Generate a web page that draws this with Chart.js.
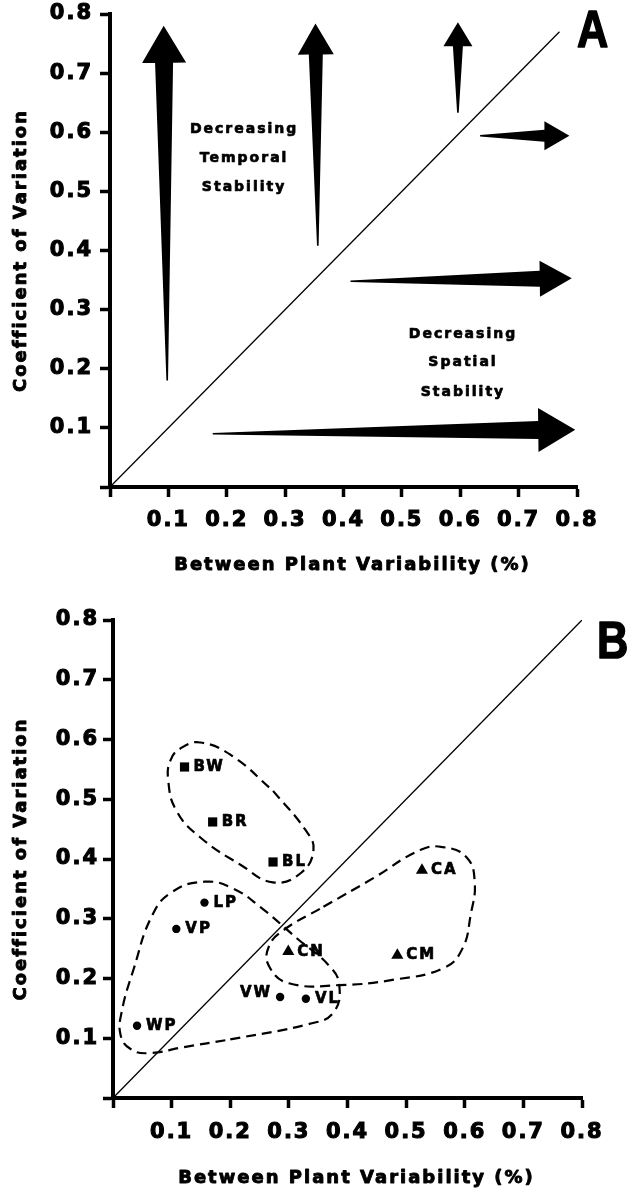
<!DOCTYPE html>
<html>
<head>
<meta charset="utf-8">
<script src="https://cdn.jsdelivr.net/npm/chart.js@4.4.1/dist/chart.umd.min.js"></script>
<style>
  html, body { margin: 0; padding: 0; background: #fff; }
  canvas { display: block; }
</style>
</head>
<body>
<canvas id="chartA" width="630" height="596"></canvas>
<canvas id="chartB" width="630" height="596"></canvas>
<script>
// ticks shared by both panels
const tickValues = [0, 0.1, 0.2, 0.3, 0.4, 0.5, 0.6, 0.7, 0.8]
const tickLabels = ['', '0.1', '0.2', '0.3', '0.4', '0.5', '0.6', '0.7', '0.8']
const xTitle = 'Between Plant Variability (%)'
const yTitle = 'Coefficient of Variation'

// panel A: 1:1 line, trend arrows and notes
const diagonalA = [[0, 0], [0.77, 0.77]]
const arrowTail = [[0.098, 0.18], [0.356, 0.408], [0.596, 0.633], [0.634, 0.594], [0.412, 0.348], [0.176, 0.09]]
const arrowTip = [[0.092, 0.78], [0.352, 0.784], [0.596, 0.786], [0.787, 0.594], [0.791, 0.353], [0.797, 0.097]]
const noteText = [['Decreasing', 'Temporal', 'Stability'], ['Decreasing', 'Spatial', 'Stability']]
const noteX = [0.228, 0.603]
const noteY = [[0.605, 0.555, 0.506], [0.259, 0.211, 0.16]]

// panel B: sites
const diagonalB = [[0, 0], [0.8, 0.8]]
const squareNames = ['BW', 'BR', 'BL']
const squareX = [0.122, 0.170, 0.273]
const squareY = [0.554, 0.462, 0.395]
const circleNames = ['LP', 'VP', 'WP', 'VW', 'VL']
const circleX = [0.156, 0.108, 0.041, 0.285, 0.329]
const circleY = [0.327, 0.283, 0.121, 0.169, 0.166]
const triangleNames = ['CN', 'CA', 'CM']
const triangleX = [0.299, 0.527, 0.485]
const triangleY = [0.245, 0.381, 0.239]

// dashed group outlines
const outlineB = [[0.273, 0.514], [0.328, 0.449], [0.342, 0.416], [0.321, 0.377], [0.273, 0.361], [0.218, 0.39],
  [0.149, 0.436], [0.108, 0.481], [0.094, 0.533], [0.098, 0.565], [0.115, 0.585], [0.149, 0.595], [0.204, 0.572], [0.273, 0.514]]
const outlineV = [[0.2, 0.098], [0.335, 0.124], [0.376, 0.143], [0.386, 0.189], [0.369, 0.221], [0.314, 0.267],
  [0.252, 0.319], [0.204, 0.351], [0.156, 0.362], [0.101, 0.345], [0.067, 0.306], [0.035, 0.215], [0.015, 0.145],
  [0.013, 0.105], [0.03, 0.082], [0.06, 0.075], [0.12, 0.085], [0.2, 0.098]]
const outlineC = [[0.359, 0.32], [0.444, 0.368], [0.524, 0.415], [0.562, 0.42], [0.603, 0.403], [0.617, 0.362],
  [0.61, 0.306], [0.596, 0.25], [0.565, 0.218], [0.479, 0.198], [0.387, 0.189], [0.3, 0.192], [0.266, 0.221],
  [0.266, 0.254], [0.291, 0.281], [0.359, 0.32]]

const toXY = pairs => pairs.map(p => ({x: p[0], y: p[1]}))
const zipXY = (xs, ys) => xs.map((x, i) => ({x: x, y: ys[i]}))

Chart.defaults.font.family = 'DejaVu Sans'
Chart.defaults.font.weight = 'bold'
Chart.defaults.font.size = 21
Chart.defaults.color = '#000'

// heavy text: fill plus a thin outline
function heavyText(ctx, s, x, y, stroke) {
    ctx.lineWidth = stroke
    ctx.strokeStyle = '#000'
    ctx.lineJoin = 'round'
    ctx.strokeText(s, x, y)
    ctx.fillText(s, x, y)
}

// wide lettering everywhere
const spacing = {
    id: 'spacing',
    beforeUpdate(chart) { chart.ctx.letterSpacing = '2px' },
    beforeDraw(chart) { chart.ctx.letterSpacing = '2px' }
}

// axis titles, drawn here so they can be outlined like the rest
const axisTitles = {
    id: 'axisTitles',
    afterDraw(chart, args, opts) {
        const ctx = chart.ctx
        const sx = chart.scales.x
        const sy = chart.scales.y
        ctx.save()
        ctx.fillStyle = '#000'
        ctx.font = 'bold 18px "DejaVu Sans"'
        ctx.textAlign = 'center'
        ctx.textBaseline = 'middle'
        heavyText(ctx, xTitle, (sx.left + sx.right) / 2 + 9, opts.xTitleY, 0.9)
        ctx.translate(opts.yTitleX, (sy.top + sy.bottom) / 2)
        ctx.rotate(-Math.PI / 2)
        heavyText(ctx, yTitle, 0, 0, 0.9)
        ctx.restore()
    }
}

// big panel letter in the top right corner
const panelLetter = {
    id: 'panelLetter',
    afterDraw(chart, args, opts) {
        const ctx = chart.ctx
        ctx.save()
        ctx.letterSpacing = '0px'
        ctx.fillStyle = '#000'
        ctx.font = 'bold 51px "Liberation Sans"'
        ctx.textAlign = 'left'
        ctx.textBaseline = 'alphabetic'
        ctx.translate(opts.x, opts.y)
        ctx.scale(0.85, 1)
        heavyText(ctx, opts.text, 0, 0, 1.5)
        ctx.restore()
    }
}

// head length, head half width, neck half width (px)
const arrowHeads = [[37, 22, 9], [31, 18, 7], [24, 14.5, 5], [25, 14.5, 6], [32, 18, 8], [37, 22, 9]]

const arrows = {
    id: 'arrows',
    afterDatasetsDraw(chart) {
        const ctx = chart.ctx
        const sx = chart.scales.x
        const sy = chart.scales.y
        ctx.save()
        ctx.fillStyle = '#000'
        arrowTail.forEach((t, i) => {
            const tx = sx.getPixelForValue(t[0]), ty = sy.getPixelForValue(t[1])
            const px = sx.getPixelForValue(arrowTip[i][0]), py = sy.getPixelForValue(arrowTip[i][1])
            const len = Math.hypot(px - tx, py - ty)
            const dx = (px - tx) / len, dy = (py - ty) / len
            const nx = -dy, ny = dx
            const [hl, hw, nw] = arrowHeads[i]
            const mx = px - dx * hl, my = py - dy * hl
            ctx.beginPath()
            ctx.moveTo(tx + nx * 0.8, ty + ny * 0.8)
            ctx.lineTo(mx + nx * nw, my + ny * nw)
            ctx.lineTo(mx + nx * hw, my + ny * hw)
            ctx.lineTo(px, py)
            ctx.lineTo(mx - nx * hw, my - ny * hw)
            ctx.lineTo(mx - nx * nw, my - ny * nw)
            ctx.lineTo(tx - nx * 0.8, ty - ny * 0.8)
            ctx.closePath()
            ctx.fill()
        })
        ctx.font = 'bold 14px "DejaVu Sans"'
        ctx.textAlign = 'center'
        ctx.textBaseline = 'middle'
        noteText.forEach((lines, i) => {
            lines.forEach((s, j) => {
                heavyText(ctx, s, sx.getPixelForValue(noteX[i]) + 1, sy.getPixelForValue(noteY[i][j]), 0.7)
            })
        })
        ctx.restore()
    }
}

// site names beside the markers
const siteLabels = {
    id: 'siteLabels',
    afterDatasetsDraw(chart) {
        const ctx = chart.ctx
        ctx.save()
        ctx.fillStyle = '#000'
        ctx.font = 'bold 15px "DejaVu Sans"'
        ctx.textBaseline = 'middle'
        chart.data.datasets.forEach((ds, i) => {
            if (!ds.names) return
            chart.getDatasetMeta(i).data.forEach((pt, j) => {
                const name = ds.names[j]
                if (name === 'VW') {
                    ctx.textAlign = 'right'
                    heavyText(ctx, name, pt.x - 8, pt.y - 4, 0.7)
                } else {
                    ctx.textAlign = 'left'
                    heavyText(ctx, name, pt.x + 9, pt.y, 0.7)
                }
            })
        })
        ctx.restore()
    }
}

function axes(cfg) {
    const common = {
        type: 'linear',
        min: 0,
        max: 0.8,
        afterBuildTicks: s => { s.ticks = tickValues.map(v => ({value: v})) },
        border: {display: true, color: '#000', width: 4},
        grid: {drawOnChartArea: false, drawTicks: true, tickLength: 10, tickWidth: 3.5, tickColor: '#000'},
        title: {display: false}
    }
    const tickFont = {textStrokeColor: '#000', textStrokeWidth: 1.1, autoSkip: false, callback: (v, i) => tickLabels[i]}
    return {
        x: {
            ...common,
            afterFit: s => { s.height = cfg.xHeight },
            ticks: {...tickFont, padding: cfg.xPad, maxRotation: 0}
        },
        y: {
            ...common,
            afterFit: s => { s.width = cfg.yWidth; s.paddingTop = 0; s.paddingBottom = 0 },
            ticks: {...tickFont, padding: cfg.yPad}
        }
    }
}

const lineStyle = {showLine: true, borderColor: '#000', pointRadius: 0, fill: false}

new Chart(document.getElementById('chartA'), {
    type: 'scatter',
    data: {
        datasets: [
            {...lineStyle, data: toXY(diagonalA), borderWidth: 1.3}
        ]
    },
    options: {
        responsive: false,
        animation: false,
        events: [],
        layout: {padding: {left: 0, right: 53, top: 14, bottom: 0}},
        scales: axes({xHeight: 109, yWidth: 110, xPad: 11, yPad: 7}),
        plugins: {
            legend: {display: false},
            tooltip: {enabled: false},
            axisTitles: {xTitleY: 565, yTitleX: 21},
            panelLetter: {text: 'A', x: 577, y: 47}
        }
    },
    plugins: [spacing, arrows, axisTitles, panelLetter]
})

const dashed = {...lineStyle, borderWidth: 2.2, borderDash: [10, 6], tension: 0.45}
const marker = {backgroundColor: '#000', borderWidth: 0, pointBorderWidth: 0}

new Chart(document.getElementById('chartB'), {
    type: 'scatter',
    data: {
        datasets: [
            {...lineStyle, data: toXY(diagonalB), borderWidth: 1.3},
            {...dashed, data: toXY(outlineB)},
            {...dashed, data: toXY(outlineV)},
            {...dashed, data: toXY(outlineC)},
            {...marker, names: squareNames, data: zipXY(squareX, squareY), pointStyle: 'rect', pointRadius: 6.5},
            {...marker, names: circleNames, data: zipXY(circleX, circleY), pointStyle: 'circle', pointRadius: 4.2},
            {...marker, names: triangleNames, data: zipXY(triangleX, triangleY), pointStyle: 'triangle', pointRadius: 7}
        ]
    },
    options: {
        responsive: false,
        animation: false,
        events: [],
        layout: {padding: {left: 0, right: 48, top: 24, bottom: 0}},
        scales: axes({xHeight: 94, yWidth: 113, xPad: 12, yPad: 4}),
        plugins: {
            legend: {display: false},
            tooltip: {enabled: false},
            axisTitles: {xTitleY: 582, yTitleX: 21},
            panelLetter: {text: 'B', x: 597, y: 62}
        }
    },
    plugins: [spacing, siteLabels, axisTitles, panelLetter]
})
</script>
</body>
</html>
